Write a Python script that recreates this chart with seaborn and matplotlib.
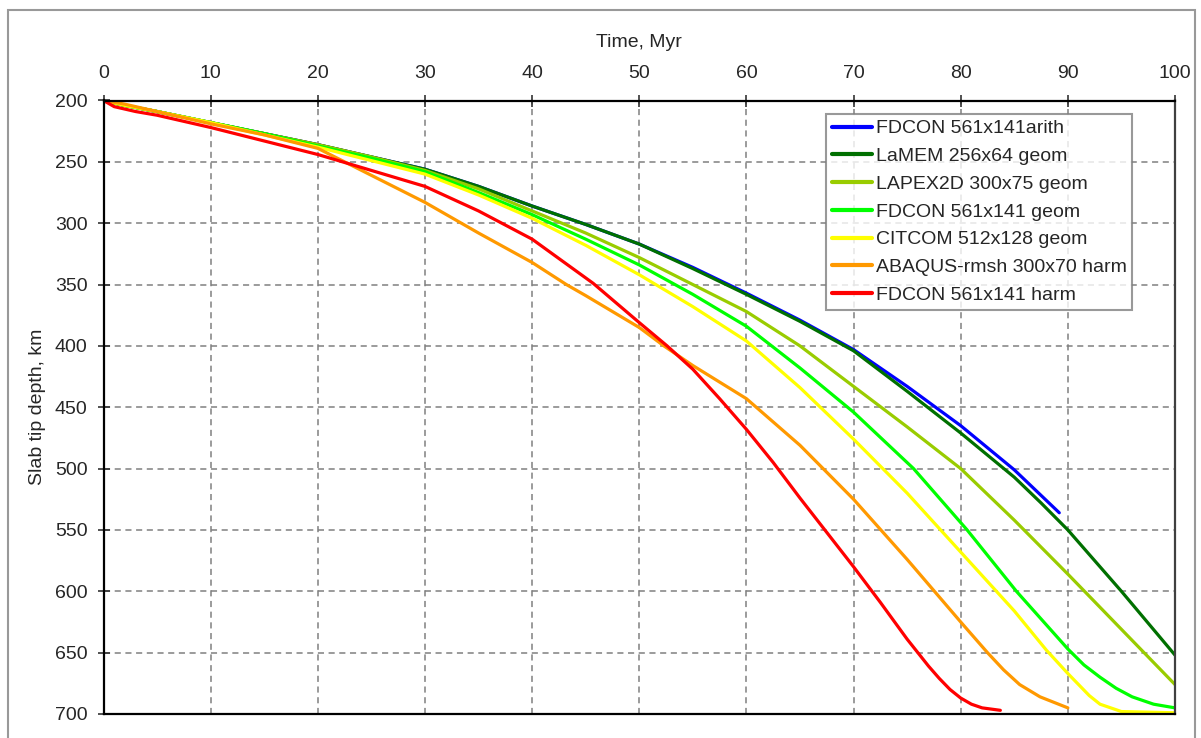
import pandas as pd
import seaborn as sns
from matplotlib import pyplot as plt
from matplotlib.patches import Rectangle

# slab tip depth (km) vs time (Myr)
fdcon_arith_t = [0, 2, 5, 10, 15, 20, 25, 30, 35, 40, 45, 50, 55, 60, 65, 70, 75, 80, 85, 87.4, 89.2]
fdcon_arith_d = [200, 204, 209, 218, 227, 236, 246, 256, 270, 286, 301, 317, 336, 357, 379, 403, 433, 465, 501, 521, 536]

lamem_t = [0, 2, 5, 10, 15, 20, 25, 30, 35, 40, 45, 50, 55, 60, 65, 70, 75, 80, 85, 87.5, 90, 95, 100]
lamem_d = [200, 204, 209, 218, 227, 236, 246, 256, 270, 286, 301, 317, 337, 358, 380, 404, 437, 471, 507, 528, 550, 600, 652]

lapex_t = [0, 2, 5, 10, 15, 20, 25, 30, 35, 40, 45, 50, 55, 60, 65, 70, 75, 80, 85, 90, 95, 100]
lapex_d = [200, 204, 209, 218, 227, 236, 246, 257, 272, 290, 308, 328, 350, 372, 400, 433, 466, 500, 542, 586, 631, 676]

fdcon_geom_t = [0, 2, 5, 10, 15, 20, 25, 30, 35, 40, 45, 50, 55, 60, 65, 70, 75.6, 80.6, 85.2, 90, 91.5, 93, 94.5,
                96, 98, 100]
fdcon_geom_d = [200, 204, 209, 218, 227, 237, 247, 258, 275, 293, 313, 334, 358, 384, 418, 454, 500, 550, 600, 647,
                660, 670, 679, 686, 692, 695]

citcom_t = [0, 2, 5, 10, 15, 20, 25, 30, 35, 40, 45, 50, 55, 60, 65, 70, 75, 80, 85, 88, 90, 92, 93, 95, 100]
citcom_d = [200, 204, 209, 218, 228, 238, 249, 260, 277, 296, 318, 342, 368, 396, 434, 476, 520, 568, 616, 648, 667,
            685, 692, 698, 699]

abaqus_t = [0, 2, 5, 10, 15, 20, 25, 30, 35, 40, 43.2, 45, 50, 52.3, 55, 60, 65, 70, 75, 80, 82.5, 84, 85.5, 87.4, 90]
abaqus_d = [200, 203, 209, 219, 228, 239, 261, 283, 308, 332, 350, 359, 385, 400, 416, 443, 481, 525, 574, 625, 650,
            664, 676, 686, 695]

fdcon_harm_t = [0, 1, 3, 5, 10, 15, 20, 25, 30, 35, 40, 45.7, 50, 52.6, 55, 57.5, 60, 62.5, 65, 67.5, 70, 72.5,
                75, 76, 77, 78, 79, 80, 81, 82, 83.7]
fdcon_harm_d = [200, 205, 209, 212, 222, 233, 244, 257, 270, 290, 313, 349, 381, 400, 419, 443, 468, 495, 524, 552,
                580, 609, 639, 650, 661, 671, 680, 687, 692, 695, 697]

names = ["FDCON 561x141arith", "LaMEM 256x64 geom", "LAPEX2D 300x75 geom", "FDCON 561x141 geom",
         "CITCOM 512x128 geom", "ABAQUS-rmsh 300x70 harm", "FDCON 561x141 harm"]
colors = ["#0000FF", "#007000", "#99CC00", "#00FF00", "#FFFF00", "#FF9900", "#FF0000"]

series = [(fdcon_arith_t, fdcon_arith_d), (lamem_t, lamem_d), (lapex_t, lapex_d), (fdcon_geom_t, fdcon_geom_d),
          (citcom_t, citcom_d), (abaqus_t, abaqus_d), (fdcon_harm_t, fdcon_harm_d)]

frames = []
for name, (t, d) in zip(names, series):
    frames.append(pd.DataFrame({"Time": t, "Depth": d, "Model": name}))
data = pd.concat(frames, ignore_index=True)

sns.set_style("ticks")
plt.rcParams["font.family"] = ["Liberation Sans", "DejaVu Sans"]
plt.rcParams["font.size"] = 14

fig = plt.figure(figsize=(12.01, 7.38), dpi=100)
ax = fig.add_axes([103.5 / 1201, 1 - 714 / 738, (1175 - 103.5) / 1201, (714 - 100.5) / 738])

sns.lineplot(data, x="Time", y="Depth", hue="Model", hue_order=names, palette=dict(zip(names, colors)),
             sort=False, estimator=None, linewidth=2.3, ax=ax)

ax.set_xlim(0, 100)
ax.set_ylim(700, 200)
ax.set_xticks(range(0, 101, 10))
ax.set_yticks(range(200, 701, 50))
ax.xaxis.tick_top()
ax.xaxis.set_label_position("top")
ax.set_xlabel("Time, Myr", fontsize=14, labelpad=13)
ax.set_ylabel("Slab tip depth, km", fontsize=14, labelpad=6)
ax.tick_params(axis="both", direction="inout", length=9, width=1.2, labelsize=14, color="#333333")
ax.tick_params(axis="x", pad=9)
ax.tick_params(axis="y", pad=7)
ax.grid(True, linestyle=(0, (4, 3)), color="#808080", linewidth=1.1)

for side in ["top", "left", "bottom"]:
    ax.spines[side].set_color("black")
    ax.spines[side].set_linewidth(1.6)
ax.spines["right"].set_color("#404040")
ax.spines["right"].set_linewidth(1.6)

leg = ax.legend(loc="upper left", bbox_to_anchor=((826 - 103.5) / 1071.5, 1 - (114 - 100.5) / 613.5),
                borderaxespad=0, fontsize=14, frameon=True, fancybox=False, handlelength=2.05,
                handletextpad=0.2, labelspacing=0.52, borderpad=0.3)
leg.get_frame().set_edgecolor("#808080")
leg.get_frame().set_linewidth(1.5)
for line in leg.get_lines():
    line.set_linewidth(3)

# light frame around the whole chart
fig.patches.append(Rectangle((8 / 1201, -0.02), (1195 - 8) / 1201, 1.02 - 10 / 738,
                             transform=fig.transFigure, fill=False, edgecolor="#999999", linewidth=1.5))

plt.savefig("out.png", dpi=100)
